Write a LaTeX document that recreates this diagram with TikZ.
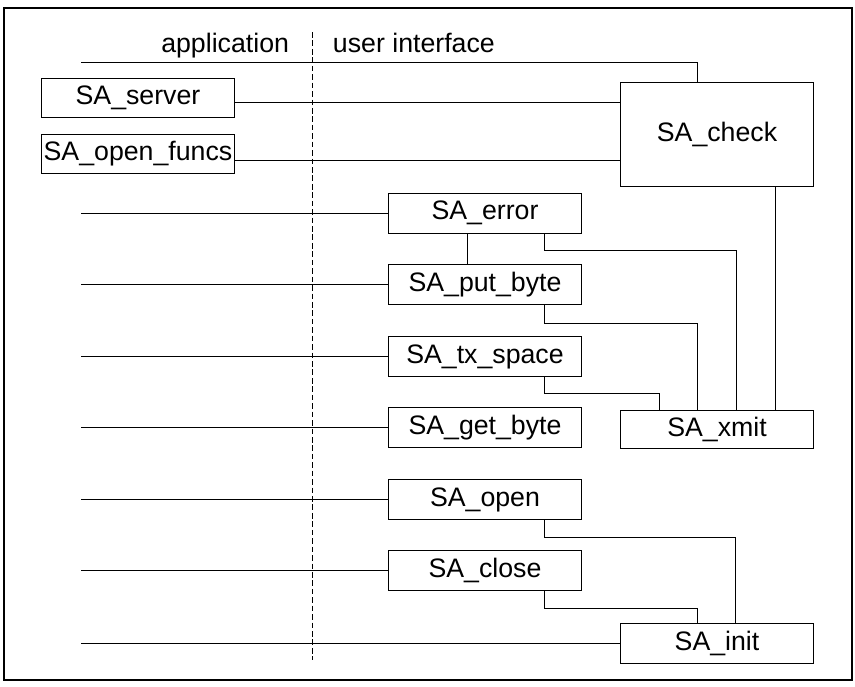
\documentclass[tikz,border=0pt]{standalone}
\usepackage{fontspec}
\setmainfont{Liberation Sans}
\usepackage{tikz}
\usetikzlibrary{calc}

\tikzset{
  routine/.style={draw, line width=0.7pt, minimum width=4.825cm, minimum height=1cm, inner sep=0pt},
  link/.style={line width=0.7pt},
}

\begin{document}
\begin{tikzpicture}[x=0.025cm, y=-0.025cm, font=\fontsize{19}{22}\selectfont]
\useasboundingbox (0,0) rectangle (855,686);

%%%%%% frame %%%
\draw[line width=0.8pt] (4,8) rectangle (852,680);

%%%%%%%%%% Divider and headings %%%%%%%%
{
\draw[line width=0.6pt, dash pattern=on 4pt off 2pt] (312,32) -- (312,660);
\node[anchor=base east] (app) at (294,52) {application};
\node[anchor=base west] (ui) at (328,52) {user interface};
}

%%%%%%%%%%%%     routines   %%%%%%%%%%%%
{
\node[routine, minimum width=4.8cm, minimum height=0.975cm] (server) at (138,97.5) {SA\_server};
\node[routine, minimum width=4.8cm, minimum height=0.975cm] (funcs) at (138,154) {SA\_open\_funcs};
\node[routine, minimum height=2.575cm] (check) at (717,134.5) {SA\_check};

\node[routine] (error) at (485,213) {SA\_error};
\node[routine] (putb) at (485,284.5) {SA\_put\_byte};
\node[routine] (txsp) at (485,356.5) {SA\_tx\_space};
\node[routine] (getb) at (485,427.5) {SA\_get\_byte};
\node[routine, minimum height=0.95cm] (xmit) at (717,429) {SA\_xmit};

\node[routine] (open) at (485,499.5) {SA\_open};
\node[routine] (close) at (485,570.5) {SA\_close};
\node[routine] (init) at (717,643) {SA\_init};
}

%%%%%%%%%%%%     connectors   %%%%%%%%%%%%
{
\coordinate (apl) at (81,0);
\coordinate (top) at (81,62);

\draw[link] (top) -| ($(check.north)+(-20,0)$);
\draw[link] ($(server.east)+(0,5)$) -- ($(server.east -| check.west)+(0,5)$);
\draw[link] ($(funcs.east)+(0,6)$) -- ($(funcs.east -| check.west)+(0,6)$);

\foreach \n in {error,putb,txsp,getb,open,close,init}
  \draw[link] (\n.west) -- (\n.west -| apl);

\draw[link] ($(error.south)+(-18,0)$) -- ($(putb.north)+(-18,0)$);
\draw[link] ($(error.south)+(59,0)$) -- ++(0,17) -| ($(xmit.north)+(19,0)$);
\draw[link] ($(putb.south)+(59,0)$) -- ++(0,18) -| ($(xmit.north)+(-20,0)$);
\draw[link] ($(txsp.south)+(59,0)$) -- ++(0,16) -| ($(xmit.north)+(-58,0)$);
\draw[link] ($(check.south)+(58,0)$) -- ($(xmit.north)+(58,0)$);

\draw[link] ($(open.south)+(59,0)$) -- ++(0,17) -| ($(init.north)+(18,0)$);
\draw[link] ($(close.south)+(59,0)$) -- ++(0,17) -| ($(init.north)+(-20,0)$);
}

\end{tikzpicture}
\end{document}
